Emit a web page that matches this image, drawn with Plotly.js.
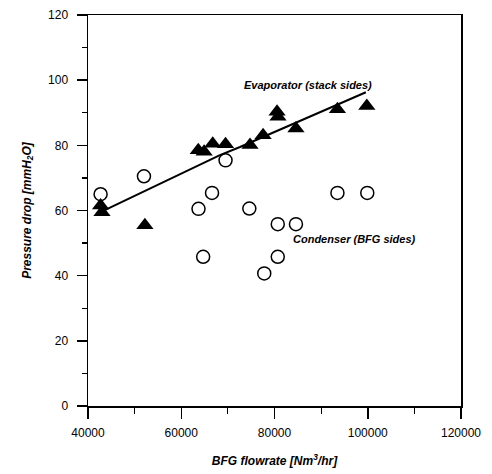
<!DOCTYPE html>
<html>
<head>
<meta charset="utf-8">
<script src="https://cdn.plot.ly/plotly-3.0.1.min.js"></script>
<style>html,body{margin:0;padding:0;background:#fff;}#chart{width:492px;height:474px;}</style>
</head>
<body>
<div id="chart"></div>
<script>
// Evaporator (stack sides) - filled triangles
var evapX = [42700, 43000, 52200, 63650, 64900, 66750, 69500, 74750, 77550, 80550, 80750, 84600, 93500, 99800];
var evapY = [61.5, 59.5, 55.5, 78.5, 78, 80.5, 80.3, 80.1, 83.1, 90.3, 88.8, 85.2, 91.1, 92.1];
// Condenser (BFG sides) - open circles
var condX = [42700, 52000, 63700, 64700, 66600, 69500, 74600, 77800, 80700, 80700, 84600, 93500, 99900];
var condY = [65, 70.5, 60.5, 45.8, 65.4, 75.4, 60.6, 40.7, 55.8, 45.8, 55.8, 65.4, 65.4];
// Trend line through evaporator data
var fitX = [42700, 55400, 68300, 72600, 85500, 99600];
var fitY = [59.5, 68.2, 77.0, 79.5, 87.5, 96.3];

var xTicks = [40000, 60000, 80000, 100000, 120000];
var yTicks = [0, 20, 40, 60, 80, 100, 120];

var fontFam = '"Liberation Sans", Arial, Helvetica, sans-serif';

var traces = [
  {x: fitX, y: fitY, mode: 'lines', type: 'scatter', line: {color: '#000', width: 2}, hoverinfo: 'skip'},
  {x: condX, y: condY, mode: 'markers', type: 'scatter',
   marker: {symbol: 'circle-open', size: 13, color: '#000', line: {color: '#000', width: 1.5}}},
  {x: evapX, y: evapY, mode: 'markers', type: 'scatter',
   marker: {symbol: 'triangle-up', size: 15, color: '#000', line: {width: 0}}}
];

var axisCommon = {
  showgrid: false, zeroline: false, showline: true, linecolor: '#000', linewidth: 1.5,
  mirror: true, ticks: 'outside', tickcolor: '#000', tickwidth: 1.5,
  tickfont: {family: fontFam, size: 12, color: '#000'}
};

var layout = {
  width: 492, height: 474,
  margin: {l: 88, r: 31, t: 15, b: 68},
  paper_bgcolor: '#fff', plot_bgcolor: '#fff',
  showlegend: false,
  xaxis: Object.assign({}, axisCommon, {
    range: [40000, 120000], tickmode: 'array', tickvals: xTicks, ticktext: xTicks.map(String),
    ticklen: 11, ticklabelstandoff: 4,
    minor: {dtick: 10000, tick0: 40000, ticks: 'outside', ticklen: 6, tickcolor: '#000', tickwidth: 1.2},
    title: {text: 'BFG flowrate [Nm<sup>3</sup>/hr]', standoff: 17,
            font: {family: fontFam, size: 12, color: '#000', weight: 'bold', style: 'italic'}}
  }),
  yaxis: Object.assign({}, axisCommon, {
    range: [0, 120], tickmode: 'array', tickvals: yTicks, ticktext: yTicks.map(String),
    ticklen: 10, ticklabelstandoff: 6,
    minor: {dtick: 10, tick0: 0, ticks: 'outside', ticklen: 5, tickcolor: '#000', tickwidth: 1.2},
    title: {text: 'Pressure drop [mmH<sub>2</sub>O]', standoff: 14,
            font: {family: fontFam, size: 12, color: '#000', weight: 'bold', style: 'italic'}}
  }),
  annotations: [
    {x: 73000, y: 98.5, xref: 'x', yref: 'y', text: 'Evaporator (stack sides)', showarrow: false,
     xanchor: 'left', yanchor: 'middle',
     font: {family: fontFam, size: 11, color: '#000', weight: 'bold', style: 'italic'}},
    {x: 83600, y: 51.2, xref: 'x', yref: 'y', text: 'Condenser (BFG sides)', showarrow: false,
     xanchor: 'left', yanchor: 'middle',
     font: {family: fontFam, size: 11, color: '#000', weight: 'bold', style: 'italic'}}
  ]
};

Plotly.newPlot('chart', traces, layout, {displayModeBar: false, staticPlot: true});
</script>
</body>
</html>
